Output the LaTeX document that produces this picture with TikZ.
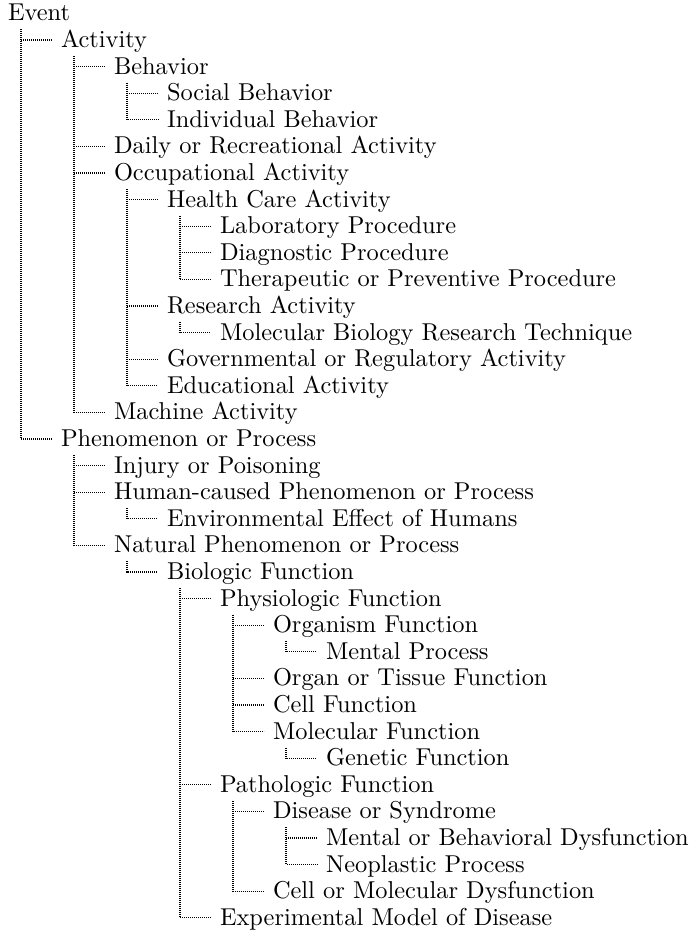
\documentclass[tikz,border=0pt]{standalone}
\usetikzlibrary{calc}
\begin{document}
\begin{tikzpicture}[
  x=0.41pt, y=-0.41pt,
  lbl/.style={anchor=west, inner sep=0pt, outer sep=0pt,
    text height=6.2pt, text depth=0pt, font=\fontsize{10}{12}\selectfont},
  tree/.style={draw=black, line width=0.42pt, dash pattern=on 0.41pt off 0.41pt}
]
\useasboundingbox[fill=white] (0,0) rectangle (693,930);

% entries: depth / label, one per row
\foreach \d/\t [count=\i from 0] in {
  0/Event,
  1/Activity,
  2/Behavior,
  3/Social Behavior,
  3/Individual Behavior,
  2/Daily or Recreational Activity,
  2/Occupational Activity,
  3/Health Care Activity,
  4/Laboratory Procedure,
  4/Diagnostic Procedure,
  4/Therapeutic or Preventive Procedure,
  3/Research Activity,
  4/Molecular Biology Research Technique,
  3/Governmental or Regulatory Activity,
  3/Educational Activity,
  2/Machine Activity,
  1/Phenomenon or Process,
  2/Injury or Poisoning,
  2/Human-caused Phenomenon or Process,
  3/Environmental Effect of Humans,
  2/Natural Phenomenon or Process,
  3/Biologic Function,
  4/Physiologic Function,
  5/Organism Function,
  6/Mental Process,
  5/Organ or Tissue Function,
  5/Cell Function,
  5/Molecular Function,
  6/Genetic Function,
  4/Pathologic Function,
  5/Disease or Syndrome,
  6/Mental or Behavioral Dysfunction,
  6/Neoplastic Process,
  5/Cell or Molecular Dysfunction,
  4/Experimental Model of Disease}
  \node[lbl] (n\i) at (8+53*\d, 13.4+26.6*\i) {\t};

% vertical guide of each parent
\foreach \p in {0,1,2,6,7,11,16,18,20,21,22,23,27,29,30}
  \coordinate (v\p) at ($(n\p.west)+(13,0)$);

% last child of each parent: vertical run plus its branch
\draw[tree] ($(v0)+(0,16)$) |- ($(n16.west)+(-9,0)$);
\draw[tree] ($(v1)+(0,16)$) |- ($(n15.west)+(-9,0)$);
\draw[tree] ($(v2)+(0,16)$) |- ($(n4.west)+(-9,0)$);
\draw[tree] ($(v6)+(0,16)$) |- ($(n14.west)+(-9,0)$);
\draw[tree] ($(v7)+(0,16)$) |- ($(n10.west)+(-9,0)$);
\draw[tree] ($(v11)+(0,16)$) |- ($(n12.west)+(-9,0)$);
\draw[tree] ($(v16)+(0,16)$) |- ($(n20.west)+(-9,0)$);
\draw[tree] ($(v18)+(0,16)$) |- ($(n19.west)+(-9,0)$);
\draw[tree] ($(v20)+(0,16)$) |- ($(n21.west)+(-9,0)$);
\draw[tree] ($(v21)+(0,16)$) |- ($(n34.west)+(-9,0)$);
\draw[tree] ($(v22)+(0,16)$) |- ($(n27.west)+(-9,0)$);
\draw[tree] ($(v23)+(0,16)$) |- ($(n24.west)+(-9,0)$);
\draw[tree] ($(v27)+(0,16)$) |- ($(n28.west)+(-9,0)$);
\draw[tree] ($(v29)+(0,16)$) |- ($(n33.west)+(-9,0)$);
\draw[tree] ($(v30)+(0,16)$) |- ($(n32.west)+(-9,0)$);

% remaining branches
\foreach \p/\c in {0/1, 1/2, 1/5, 1/6, 2/3, 6/7, 6/11, 6/13, 7/8, 7/9,
                   16/17, 16/18, 21/22, 21/29, 22/23, 22/25, 22/26,
                   29/30, 30/31}
  \draw[tree] (v\p |- n\c.west) -- ($(n\c.west)+(-9,0)$);
\end{tikzpicture}
\end{document}
